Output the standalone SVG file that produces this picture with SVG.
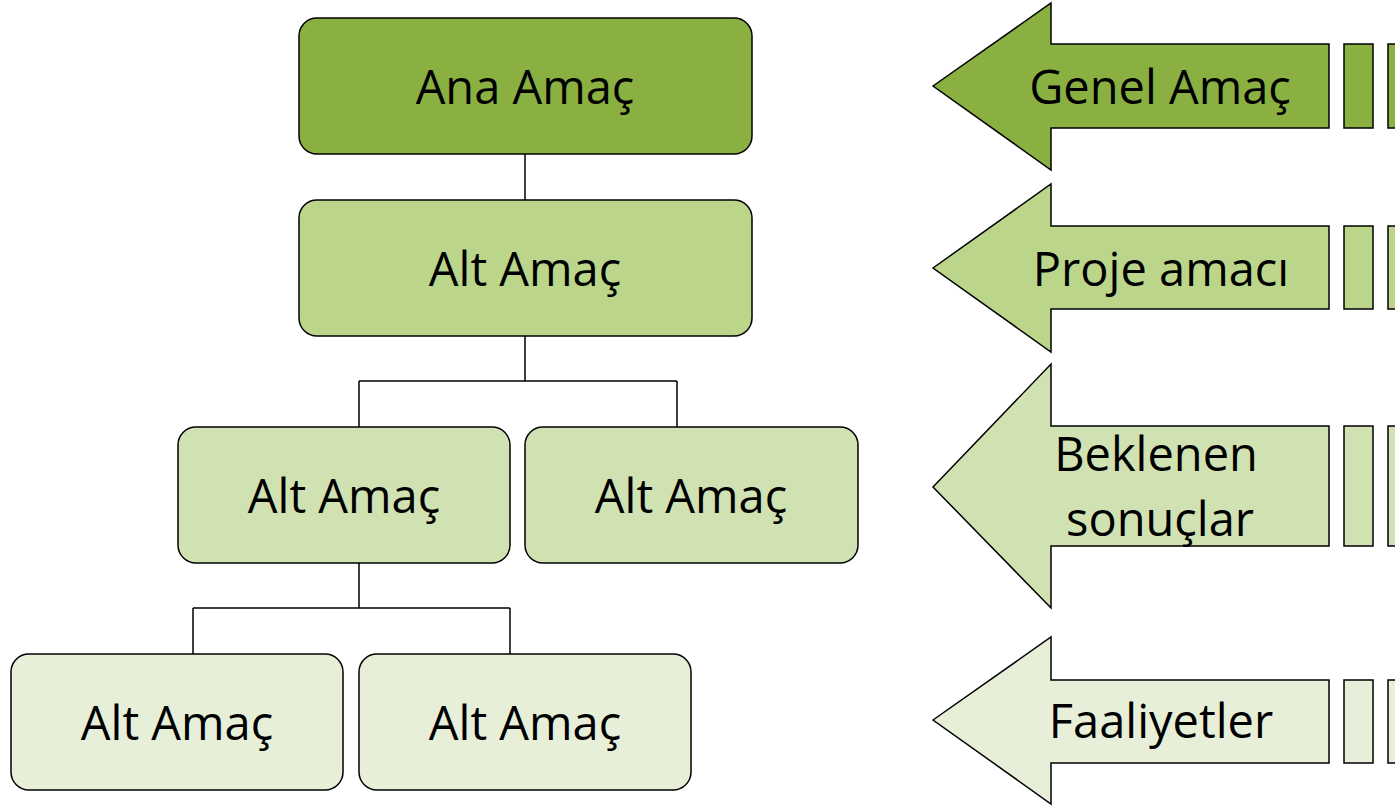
<svg xmlns="http://www.w3.org/2000/svg" width="1395" height="806" viewBox="0 0 1395 806">
<style>
.box{stroke:#000;stroke-width:1.5}
.c1{fill:#8AB042}.c2{fill:#BBD68B}.c3{fill:#D1E2B2}.c4{fill:#E7EFD9}
.lbl{font-family:"Open Sans","Liberation Sans",sans-serif;font-size:47px;fill:#000;text-anchor:middle}
.conn{stroke:#000;stroke-width:1.5;fill:none}
</style>
<rect width="1395" height="806" fill="#fff"/>
<g id="connectors">
<path class="conn" d="M525 154V200"/>
<path class="conn" d="M525 336V381M359 381H677M359 381V427M677 381V427"/>
<path class="conn" d="M359 563V608M193 608H510M193 608V654M510 608V654"/>
</g>
<g id="n-ana"><rect class="box c1" x="299" y="18" width="453" height="136" rx="18"/><text class="lbl" x="525" y="104">Ana Amaç</text></g>
<g id="n-alt1"><rect class="box c2" x="299" y="200" width="453" height="136" rx="18"/><text class="lbl" x="525" y="286">Alt Amaç</text></g>
<g id="n-alt2"><rect class="box c3" x="178" y="427" width="332" height="136" rx="18"/><text class="lbl" x="344" y="513">Alt Amaç</text></g>
<g id="n-alt3"><rect class="box c3" x="525" y="427" width="333" height="136" rx="18"/><text class="lbl" x="691" y="513">Alt Amaç</text></g>
<g id="n-alt4"><rect class="box c4" x="11" y="654" width="332" height="136" rx="18"/><text class="lbl" x="177" y="740">Alt Amaç</text></g>
<g id="n-alt5"><rect class="box c4" x="359" y="654" width="332" height="136" rx="18"/><text class="lbl" x="525" y="740">Alt Amaç</text></g>
<g id="a-genel">
<path class="box c1" d="M933 86L1051 3V44H1329V128H1051V170Z"/>
<rect class="box c1" x="1344" y="44" width="29" height="84"/>
<rect class="box c1" x="1388" y="44" width="20" height="84"/>
<text class="lbl" x="1160" y="104">Genel Amaç</text>
</g>
<g id="a-proje">
<path class="box c2" d="M933 268L1051 184V226H1329V309H1051V352Z"/>
<rect class="box c2" x="1344" y="226" width="29" height="83"/>
<rect class="box c2" x="1388" y="226" width="20" height="83"/>
<text class="lbl" x="1161" y="286">Proje amacı</text>
</g>
<g id="a-beklenen">
<path class="box c3" d="M933 487L1051 364V426H1329V546H1051V608Z"/>
<rect class="box c3" x="1344" y="426" width="29" height="120"/>
<rect class="box c3" x="1388" y="426" width="20" height="120"/>
<text class="lbl" x="1156" y="471">Beklenen</text>
<text class="lbl" x="1160" y="536">sonuçlar</text>
</g>
<g id="a-faaliyet">
<path class="box c4" d="M933 720L1051 637V680H1329V763H1051V804Z"/>
<rect class="box c4" x="1344" y="680" width="29" height="83"/>
<rect class="box c4" x="1388" y="680" width="20" height="83"/>
<text class="lbl" x="1161" y="738">Faaliyetler</text>
</g>
</svg>
